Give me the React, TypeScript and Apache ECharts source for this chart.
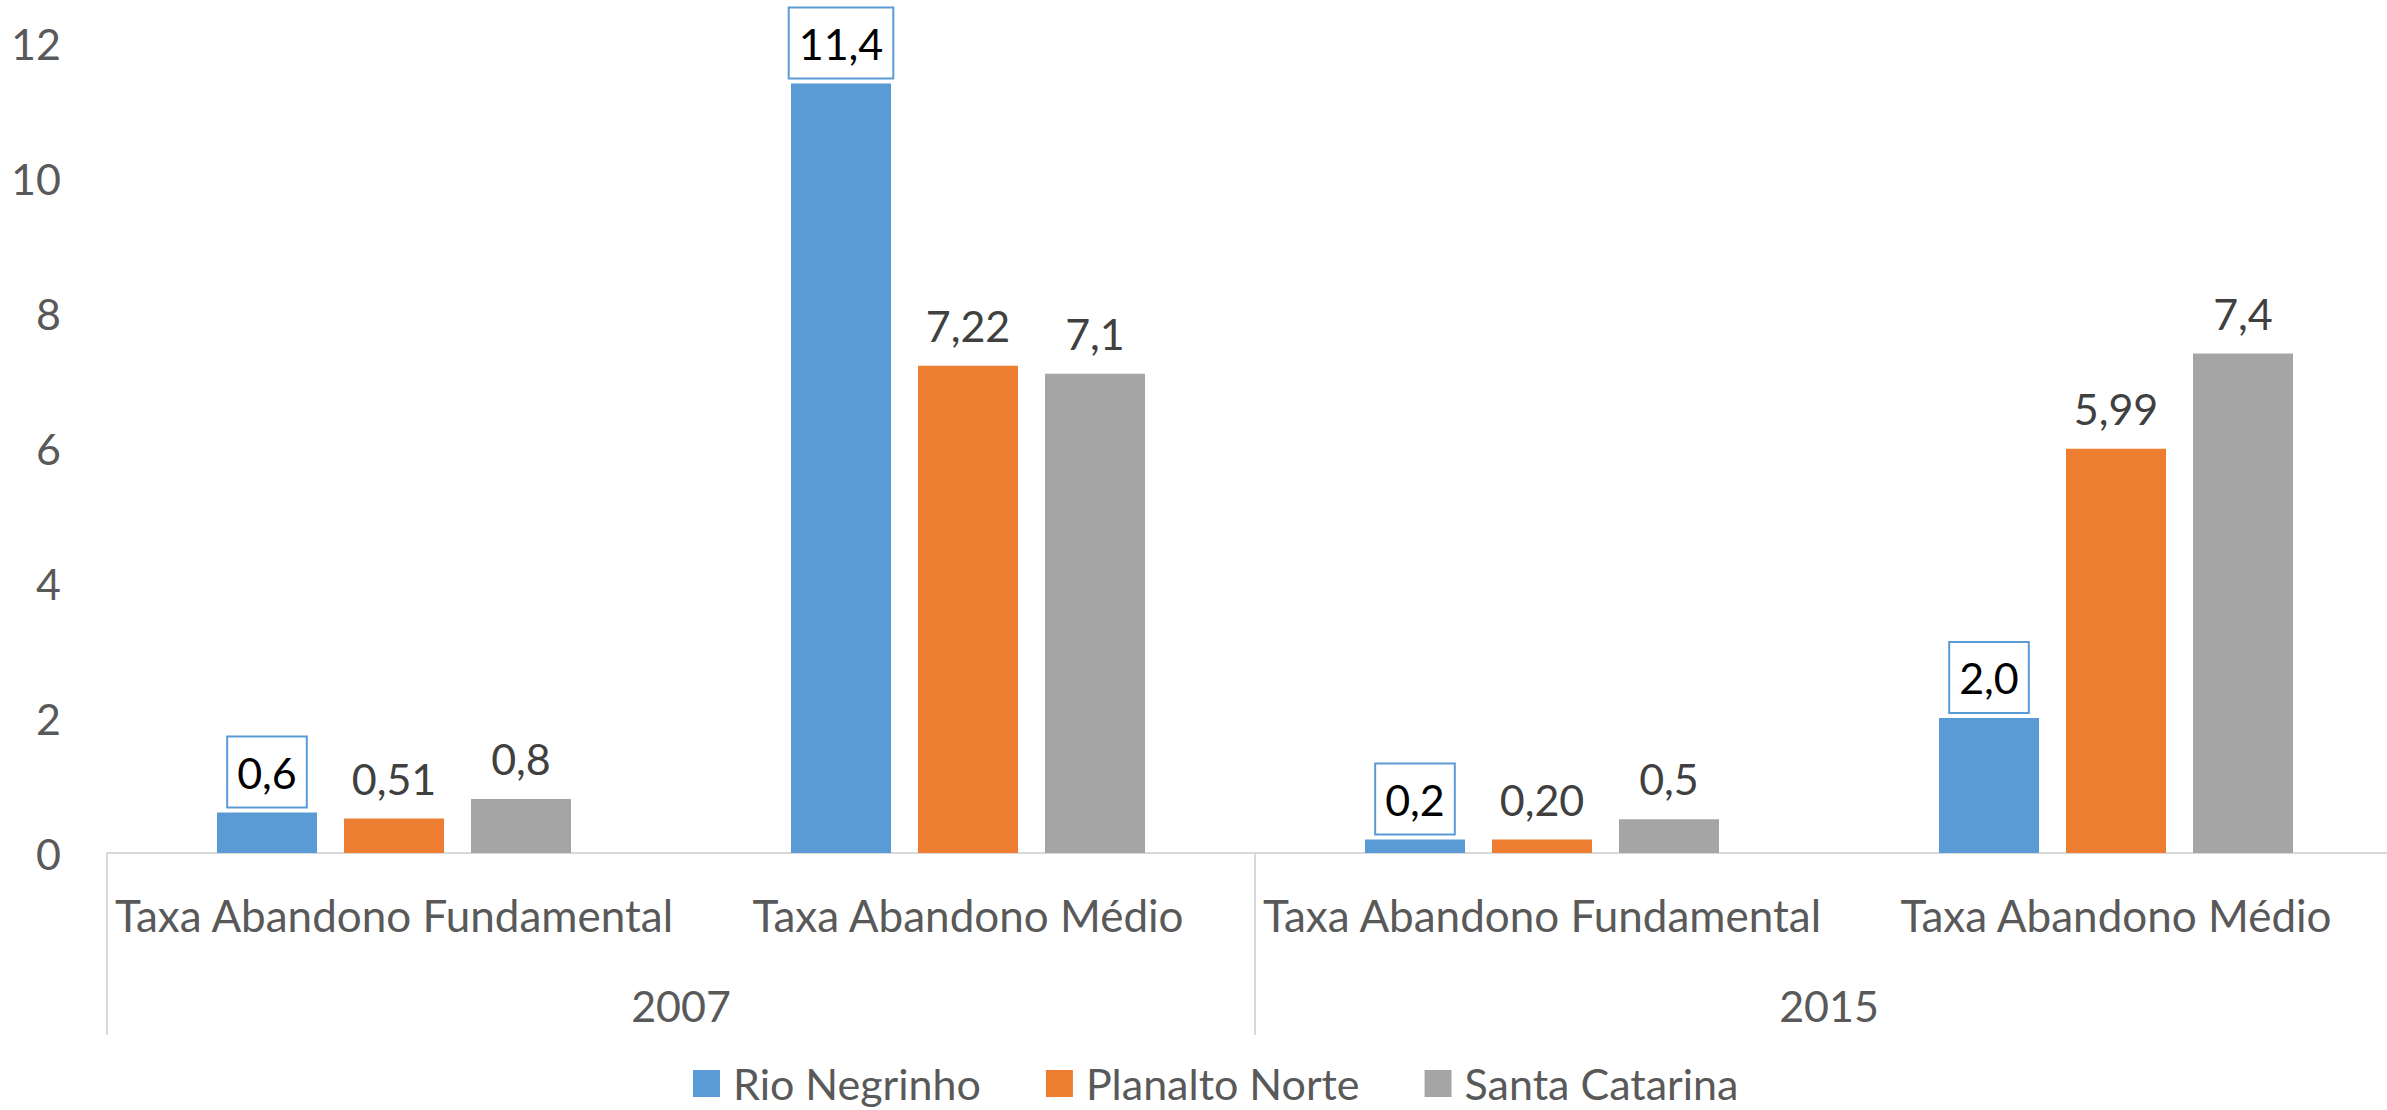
import React, { useEffect, useRef } from "react";
import * as echarts from "echarts";

const categories = [
  "Taxa Abandono Fundamental",
  "Taxa Abandono Médio",
  "Taxa Abandono Fundamental",
  "Taxa Abandono Médio",
];
const years = ["2007", "2015"];
const seriesNames = ["Rio Negrinho", "Planalto Norte", "Santa Catarina"];
const rioNegrinho = [0.6, 11.4, 0.2, 2.0];
const planaltoNorte = [0.51, 7.22, 0.2, 5.99];
const santaCatarina = [0.8, 7.1, 0.5, 7.4];
const decimals = [1, 2, 1];
const colors = ["#5B9BD5", "#ED7D31", "#A5A5A5"];

const FONT = "Lato";

export default function App() {
  const ref = useRef<HTMLDivElement>(null);

  useEffect(() => {
    if (!ref.current) return;
    const chart = echarts.init(ref.current, null, { renderer: "svg" });
    const values = [rioNegrinho, planaltoNorte, santaCatarina];
    const series = values.map((data, i) => ({
      name: seriesNames[i],
      type: "bar",
      data,
      barWidth: 100,
      barGap: "27%",
      xAxisIndex: 0,
      itemStyle: { color: colors[i] },
      label: {
        show: true,
        position: "top",
        distance: 6,
        fontFamily: FONT,
        fontSize: 43,
        lineHeight: 51,
        padding: [9, 9],
        color: i === 0 ? "#000000" : "#404040",
        backgroundColor: i === 0 ? "#ffffff" : "transparent",
        borderColor: i === 0 ? "#5B9BD5" : "transparent",
        borderWidth: i === 0 ? 2 : 0,
        formatter: (p: any) =>
          Number(p.value).toFixed(decimals[i]).replace(".", ","),
      },
    }));

    chart.setOption({
      animation: false,
      textStyle: { fontFamily: FONT },
      grid: { left: 107, top: 43, width: 2296, height: 810 },
      legend: {
        data: seriesNames,
        left: 693,
        top: 1062,
        padding: 0,
        itemWidth: 27,
        itemHeight: 27,
        itemGap: 65,
        icon: "rect",
        textStyle: {
          fontFamily: FONT,
          fontSize: 43,
          lineHeight: 43,
          color: "#595959",
          padding: [0, 0, 0, 8],
        },
      },
      xAxis: [
        {
          type: "category",
          data: categories,
          position: "bottom",
          axisLine: { show: true, lineStyle: { color: "#D9D9D9", width: 2 } },
          axisTick: { show: false },
          axisLabel: {
            interval: 0,
            margin: 62,
            verticalAlign: "middle",
            fontFamily: FONT,
            fontSize: 44,
            color: "#595959",
          },
        },
        {
          type: "category",
          data: years,
          position: "bottom",
          axisLine: { show: false },
          axisTick: {
            show: true,
            length: 182,
            interval: 0,
            lineStyle: { color: "#D9D9D9", width: 2 },
          },
          axisLabel: {
            interval: 0,
            margin: 152,
            verticalAlign: "middle",
            fontFamily: FONT,
            fontSize: 43,
            color: "#595959",
          },
        },
      ],
      yAxis: {
        type: "value",
        min: 0,
        max: 12,
        interval: 2,
        axisLine: { show: false },
        axisTick: { show: false },
        splitLine: { show: false },
        axisLabel: {
          margin: 46,
          fontFamily: FONT,
          fontSize: 43,
          color: "#595959",
        },
      },
      series,
    });

    return () => chart.dispose();
  }, []);

  return (
    <div
      style={{
        position: "absolute",
        left: 0,
        top: 0,
        width: 2387,
        height: 1110,
        overflow: "hidden",
        background: "#ffffff",
      }}
    >
      <div ref={ref} style={{ width: 2430, height: 1110 }} />
    </div>
  );
}
